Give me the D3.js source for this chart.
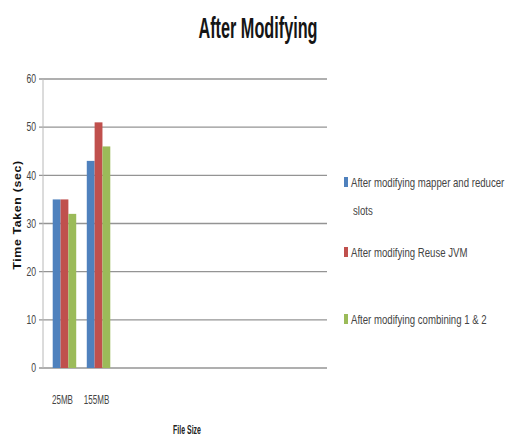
<!DOCTYPE html>
<html>
<head>
<meta charset="utf-8">
<script src="https://cdn.jsdelivr.net/npm/d3@7"></script>
<style>
  html, body { margin: 0; padding: 0; background: #fff; }
  svg { display: block; }
  text { font-family: "Liberation Sans", "DejaVu Sans", sans-serif; }
</style>
</head>
<body>
<svg id="chart" width="512" height="443"></svg>
<script>
// Run times per file size for each tuning step
const categories = ["25MB", "155MB"];
const seriesNames = [
  "After modifying mapper and reducer slots",
  "After modifying Reuse JVM",
  "After modifying combining 1 & 2"
];
const mapperReducerSlots = [35, 43];
const reuseJvm = [35, 51];
const combined = [32, 46];
const yTicks = [0, 10, 20, 30, 40, 50, 60];
const colors = ["#4f81bd", "#c0504d", "#9bbb59"];

const series = [mapperReducerSlots, reuseJvm, combined];
const rows = categories.map((c, i) => ({
  category: c,
  values: series.map((s, k) => ({ key: seriesNames[k], value: s[i], k }))
}));

const svg = d3.select("#chart");
const plot = { left: 43, right: 327, top: 79, bottom: 368 };

// Narrow text: squeeze glyphs horizontally around an anchor point
function narrow(sel, x, y, sx) {
  sel.attr("transform", `translate(${x},${y}) scale(${sx},1)`);
}

const y = d3.scaleLinear().domain([0, 60]).range([plot.bottom, plot.top]);
const x = d3.scaleBand().domain(categories)
  .range([plot.left, plot.left + 77]).paddingInner(0.31).paddingOuter(0.285);
const xs = d3.scaleBand().domain(d3.range(series.length)).range([0, x.bandwidth()]);

// Gridlines (with short tick stubs left of the axis)
svg.append("g")
  .selectAll("line")
  .data(yTicks)
  .join("line")
  .attr("x1", plot.left - 4).attr("x2", plot.right)
  .attr("y1", d => y(d)).attr("y2", d => y(d))
  .attr("stroke", "#949494")
  .attr("stroke-width", 1.3);

// Vertical axis line
svg.append("line")
  .attr("x1", plot.left).attr("x2", plot.left)
  .attr("y1", plot.top).attr("y2", plot.bottom)
  .attr("stroke", "#b8b8b8").attr("stroke-width", 1);

// Y tick labels
svg.append("g")
  .selectAll("text")
  .data(yTicks)
  .join("text")
  .attr("dy", "0.36em")
  .attr("text-anchor", "end")
  .attr("font-size", 12)
  .attr("fill", "#444")
  .text(d => d)
  .each(function (d) { narrow(d3.select(this), 36, y(d), 0.72); });

// Bars
svg.append("g")
  .selectAll("g")
  .data(rows)
  .join("g")
  .attr("transform", d => `translate(${x(d.category)},0)`)
  .selectAll("rect")
  .data(d => d.values)
  .join("rect")
  .attr("x", d => xs(d.k))
  .attr("width", xs.bandwidth())
  .attr("y", d => y(d.value))
  .attr("height", d => y(0) - y(d.value))
  .attr("fill", d => colors[d.k]);

// Category labels
svg.append("g")
  .selectAll("text")
  .data(categories)
  .join("text")
  .attr("text-anchor", "middle")
  .attr("font-size", 13)
  .attr("fill", "#444")
  .text(d => d)
  .each(function (d) {
    narrow(d3.select(this), x(d) + x.bandwidth() / 2 - 2, 404, 0.62);
  });

// Title
svg.append("text")
  .attr("text-anchor", "middle")
  .attr("font-size", 29)
  .attr("font-weight", "bold")
  .attr("fill", "#151515")
  .text("After Modifying")
  .call(narrow, 258, 38, 0.56);

// Axis titles
svg.append("text")
  .attr("transform", "translate(21,215) rotate(-90) scale(1.12,1)")
  .attr("text-anchor", "middle")
  .attr("font-size", 11)
  .attr("font-weight", "bold")
  .attr("letter-spacing", 0.6)
  .attr("fill", "#111")
  .text("Time Taken (sec)");

svg.append("text")
  .attr("text-anchor", "middle")
  .attr("font-size", 12)
  .attr("font-weight", "bold")
  .attr("fill", "#222")
  .text("File Size")
  .call(narrow, 187, 434, 0.58);

// Legend
const legendLines = [
  ["After modifying mapper and reducer", "slots"],
  ["After modifying Reuse JVM"],
  ["After modifying combining 1 & 2"]
];
const legendY = [182, 252, 319];
const legend = svg.append("g")
  .selectAll("g")
  .data(seriesNames)
  .join("g")
  .attr("transform", (d, i) => `translate(344,${legendY[i]})`);
legend.append("rect")
  .attr("x", 0).attr("y", -5).attr("width", 4).attr("height", 10)
  .attr("fill", (d, i) => colors[i]);
legend.each(function (d, i) {
  const g = d3.select(this);
  legendLines[i].forEach((line, j) => {
    g.append("text")
      .attr("dy", "0.36em")
      .attr("font-size", 13)
      .attr("fill", "#444")
      .text(line)
      .call(narrow, j === 0 ? 7 : 9, j * 28, 0.74);
  });
});
</script>
</body>
</html>
